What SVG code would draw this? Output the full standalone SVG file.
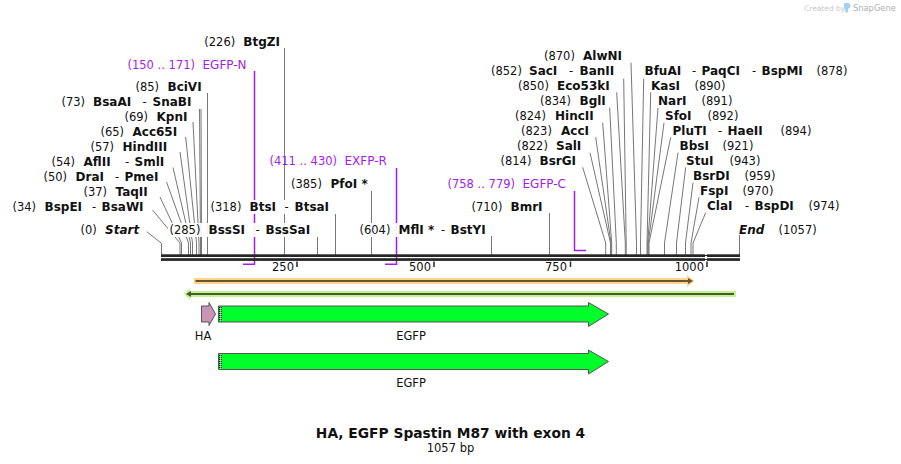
<svg xmlns="http://www.w3.org/2000/svg" width="901" height="464" viewBox="0 0 901 464">
<style>
text{font-family:"DejaVu Sans",Verdana,sans-serif;font-size:11.5px;fill:#111}
.n{font-weight:bold;font-size:12px}
.i{font-weight:bold;font-style:italic;font-size:12px}
.p{fill:#a31cf0}
.pn{fill:#a31cf0;font-size:12px}
.l{fill:none;stroke:#777;stroke-width:1}
.pr{fill:none;stroke:#a31cf0;stroke-width:1.5}
.bg{fill:#fff;opacity:.92}
.f{fill:#00ff2a;stroke:#555;stroke-width:1}
.bk{fill:#262626}
</style>
<defs><pattern id="dots" width="2" height="2" patternUnits="userSpaceOnUse"><rect width="2" height="2" fill="#00ff2a"/><rect width="1" height="1" fill="#fff"/><rect x="1" y="1" width="1" height="1" fill="#111"/></pattern></defs>
<rect width="901" height="464" fill="#fff"/>
<g id="connectors">
<polyline class="l" points="146.7,231.7 161.5,243.3 161.5,255"/>
<polyline class="l" points="152.5,210 180,243 180,255"/>
<polyline class="l" points="160,197 181.5,243 181.5,255"/>
<polyline class="l" points="166.5,182 188.5,243 188.5,255"/>
<polyline class="l" points="173,167.5 190.5,243 190.5,255"/>
<polyline class="l" points="180,152 192.5,243 192.5,255"/>
<polyline class="l" points="185.7,137 196.5,243 196.5,255"/>
<polyline class="l" points="193,122 199,243 199,255"/>
<polyline class="l" points="199.5,109 200.5,243 200.5,255"/>
<polyline class="l" points="201,109 201.5,243 201.5,255"/>
<line class="l" x1="207.5" y1="93" x2="207.5" y2="255"/>
<line class="l" x1="284.5" y1="48" x2="284.5" y2="255"/>
<line class="l" x1="317.5" y1="236" x2="317.5" y2="255"/>
<line class="l" x1="335.5" y1="214" x2="335.5" y2="255"/>
<line class="l" x1="371.5" y1="191" x2="371.5" y2="255"/>
<line class="l" x1="491.5" y1="236" x2="491.5" y2="255"/>
<line class="l" x1="549.5" y1="213" x2="549.5" y2="255"/>
<polyline class="l" points="582.7,167.3 605.7,243 605.7,255"/>
<polyline class="l" points="590,152.7 610.5,243 610.5,255"/>
<polyline class="l" points="595.7,137.3 611,243 611,255"/>
<polyline class="l" points="602.7,122.7 611.7,243 611.7,255"/>
<polyline class="l" points="609.7,107.7 616.3,243 616.3,255"/>
<polyline class="l" points="616.7,92.3 625.3,243 625.3,255"/>
<polyline class="l" points="623.7,78.7 626.2,243 626.2,255"/>
<polyline class="l" points="631,62.7 636.5,243 636.5,255"/>
<polyline class="l" points="643.7,78.7 640.5,243 640.5,255"/>
<polyline class="l" points="650.7,92.3 647,243 647,255"/>
<polyline class="l" points="658,107.7 647.7,243 647.7,255"/>
<polyline class="l" points="664,122.7 648.3,243 648.3,255"/>
<polyline class="l" points="670.7,137.3 649,243 649,255"/>
<polyline class="l" points="678,152.7 664.5,243 664.5,255"/>
<polyline class="l" points="685.7,167.3 676.5,243 676.5,255"/>
<polyline class="l" points="693,182.7 685.5,243 685.5,255"/>
<polyline class="l" points="699,197.3 691,243 691,255"/>
<polyline class="l" points="705.7,212.7 693,243 693,255"/>
<polyline class="l" points="739.5,235 739.5,255"/>
<polyline class="pr" points="254.5,71 254.5,264.3 243,264.3"/>
<polyline class="pr" points="396.5,168 396.5,264.3 385,264.3"/>
<polyline class="pr" points="574.5,191 574.5,250.5 586,250.5"/>
</g>
<g id="backbone">
<rect class="bk" x="161" y="254.3" width="579" height="2.7"/>
<rect class="bk" x="161" y="258.2" width="579" height="2.7"/>
<path d="M706 254v7" stroke="#fff" stroke-width="2" stroke-dasharray="1 1"/>
<path d="M297 261.5v5.5M434 261.5v5.5M570.500 261.500v5.500M707 261.500v5.500" stroke="#262626" stroke-width="1.500"/>
<text x="294" y="271" text-anchor="end">250</text>
<text x="431" y="271" text-anchor="end">500</text>
<text x="567" y="271" text-anchor="end">750</text>
<text x="704" y="271" text-anchor="end">1000</text>
</g>
<g id="label-BtgZI"><text x="204.300" y="46">(226)</text><text class="n" x="243.300" y="46">BtgZI</text></g>
<g id="primer-EGFP-N"><text class="p" x="127.500" y="69">(150 .. 171)</text><text class="pn" x="202.500" y="69">EGFP-N</text></g>
<g id="label-BciVI"><text x="135.500" y="91">(85)</text><text class="n" x="167.500" y="91">BciVI</text></g>
<g id="label-BsaAI"><text x="61.500" y="106">(73)</text><text class="n" x="93" y="106">BsaAI</text><text x="142.500" y="106">-</text><text class="n" x="152.500" y="106">SnaBI</text></g>
<g id="label-KpnI"><text x="124.500" y="121">(69)</text><text class="n" x="156.500" y="121">KpnI</text></g>
<g id="label-Acc65I"><text x="100.500" y="136">(65)</text><text class="n" x="132.500" y="136">Acc65I</text></g>
<g id="label-HindIII"><text x="90.500" y="151">(57)</text><text class="n" x="122.500" y="151">HindIII</text></g>
<g id="label-AflII"><text x="51.500" y="166">(54)</text><text class="n" x="83.500" y="166">AflII</text><text x="125" y="166">-</text><text class="n" x="134.500" y="166">SmlI</text></g>
<g id="label-DraI"><text x="43.500" y="181">(50)</text><text class="n" x="75.500" y="181">DraI</text><text x="115" y="181">-</text><text class="n" x="124.500" y="181">PmeI</text></g>
<g id="label-TaqII"><text x="83.500" y="196">(37)</text><text class="n" x="115.500" y="196">TaqII</text></g>
<g id="label-BspEI"><text x="12.500" y="211">(34)</text><text class="n" x="44.500" y="211">BspEI</text><text x="92" y="211">-</text><text class="n" x="101.500" y="211">BsaWI</text></g>
<g id="label-Start"><text x="80.500" y="234">(0)</text><text class="i" x="105" y="234">Start</text></g>
<g id="label-BssSI"><rect class="bg" x="168" y="223" width="166" height="14"/><text x="169.500" y="234">(285)</text><text class="n" x="208.500" y="234">BssSI</text><text x="255.500" y="234">-</text><text class="n" x="265.500" y="234">BssSaI</text></g>
<g id="label-BtsI"><rect class="bg" x="209" y="200" width="124" height="14"/><text x="210.500" y="211">(318)</text><text class="n" x="249.500" y="211">BtsI</text><text x="284.500" y="211">-</text><text class="n" x="294.500" y="211">BtsaI</text></g>
<g id="label-PfoI"><rect class="bg" x="290" y="177" width="80" height="14"/><text x="291" y="188">(385)</text><text class="n" x="330.500" y="188">PfoI *</text></g>
<g id="primer-EXFP-R"><text class="p" x="269.500" y="165">(411 .. 430)</text><text class="pn" x="344.500" y="165">EXFP-R</text></g>
<g id="primer-EGFP-C"><text class="p" x="447.500" y="188">(758 .. 779)</text><text class="pn" x="522.500" y="188">EGFP-C</text></g>
<g id="label-BmrI"><text x="471.500" y="211">(710)</text><text class="n" x="510.500" y="211">BmrI</text></g>
<g id="label-MflI"><rect class="bg" x="358" y="223" width="132" height="14"/><text x="359.500" y="234">(604)</text><text class="n" x="398.500" y="234">MflI *</text><text x="441" y="234">-</text><text class="n" x="450.500" y="234">BstYI</text></g>
<g id="label-BsrGI"><text x="500.500" y="165">(814)</text><text class="n" x="539.500" y="165">BsrGI</text></g>
<g id="label-SalI"><text x="517" y="150">(822)</text><text class="n" x="556" y="150">SalI</text></g>
<g id="label-AccI"><text x="521" y="135">(823)</text><text class="n" x="561" y="135">AccI</text></g>
<g id="label-HincII"><text x="515" y="120">(824)</text><text class="n" x="555" y="120">HincII</text></g>
<g id="label-BglI"><text x="540" y="105">(834)</text><text class="n" x="579.500" y="105">BglI</text></g>
<g id="label-Eco53kI"><text x="518" y="90">(850)</text><text class="n" x="557" y="90">Eco53kI</text></g>
<g id="label-SacI"><text x="491" y="75">(852)</text><text class="n" x="529" y="75">SacI</text><text x="569" y="75">-</text><text class="n" x="579.500" y="75">BanII</text></g>
<g id="label-AlwNI"><text x="544" y="60">(870)</text><text class="n" x="583" y="60">AlwNI</text></g>
<g id="label-BfuAI"><text class="n" x="644.500" y="75">BfuAI</text><text x="692" y="75">-</text><text class="n" x="701.500" y="75">PaqCI</text><text x="752" y="75">-</text><text class="n" x="761.500" y="75">BspMI</text><text x="816.500" y="75">(878)</text></g>
<g id="label-KasI"><text class="n" x="651" y="90">KasI</text><text x="694.500" y="90">(890)</text></g>
<g id="label-NarI"><text class="n" x="658" y="105">NarI</text><text x="701.500" y="105">(891)</text></g>
<g id="label-SfoI"><text class="n" x="665" y="120">SfoI</text><text x="707.500" y="120">(892)</text></g>
<g id="label-PluTI"><text class="n" x="672.500" y="135">PluTI</text><text x="718" y="135">-</text><text class="n" x="727.500" y="135">HaeII</text><text x="780.500" y="135">(894)</text></g>
<g id="label-BbsI"><text class="n" x="679.500" y="150">BbsI</text><text x="722.500" y="150">(921)</text></g>
<g id="label-StuI"><text class="n" x="686" y="165">StuI</text><text x="729.500" y="165">(943)</text></g>
<g id="label-BsrDI"><text class="n" x="693" y="180">BsrDI</text><text x="744.500" y="180">(959)</text></g>
<g id="label-FspI"><text class="n" x="700" y="195">FspI</text><text x="742.500" y="195">(970)</text></g>
<g id="label-ClaI"><text class="n" x="707" y="210">ClaI</text><text x="745" y="210">-</text><text class="n" x="754.500" y="210">BspDI</text><text x="808.500" y="210">(974)</text></g>
<g id="label-End"><text class="i" x="739" y="234">End</text><text x="778.500" y="234">(1057)</text></g>
<g id="orf-forward">
<path d="M194 278H687V275L694.500 281L687 287V284H194Z" fill="#fcd58a"/>
<path d="M195.500 281H689" stroke="#6b5230" stroke-width="2"/><path d="M688 278L693 281L688 284Z" fill="#6b5230"/>
</g>
<g id="orf-reverse">
<path d="M736 291H190V288L184 294L190 300V297H736Z" fill="#c4f58c"/>
<path d="M734 294H190" stroke="#46583a" stroke-width="2"/><path d="M191 291L186 294L191 297Z" fill="#46583a"/>
</g>
<g id="feature-HA">
<path d="M201.500 306H209V302.500L215.500 314L209 325.500V322H201.500Z" fill="#c896b4" stroke="#555"/>
<text x="203" y="340" text-anchor="middle">HA</text>
</g>
<g id="feature-EGFP-1">
<path class="f" d="M218.500 306H588.500V302.500L608.500 314L588.500 326.500V322H218.500Z"/>
<rect x="219" y="307" width="3" height="14.500" fill="url(#dots)"/>
<text x="411" y="340" text-anchor="middle">EGFP</text>
</g>
<g id="feature-EGFP-2">
<path class="f" d="M218.500 353.500H588.500V350L608.500 361.500L588.500 374V369.500H218.500Z"/>
<rect x="219" y="354.500" width="3" height="14.500" fill="url(#dots)"/>
<text x="411" y="387" text-anchor="middle">EGFP</text>
</g>
<g id="title">
<text class="n" x="450.500" y="438" text-anchor="middle" style="font-size:13.800px">HA, EGFP Spastin M87 with exon 4</text>
<text x="450.500" y="452" text-anchor="middle">1057 bp</text>
</g>
<g id="watermark">
<text x="804" y="10.500" style="font-size:7.500px;fill:#c8c8c8">Created by</text>
<path d="M844 3h3.500c2 0 3 1 3 3s-1.500 2.500-2.500 3v3l-2 1-1-3-1-4Z" fill="#9fd3f2"/>
<text x="853" y="10.500" style="font-size:8.300px;fill:#b0b0b0">SnapGene</text>
</g>
</svg>
